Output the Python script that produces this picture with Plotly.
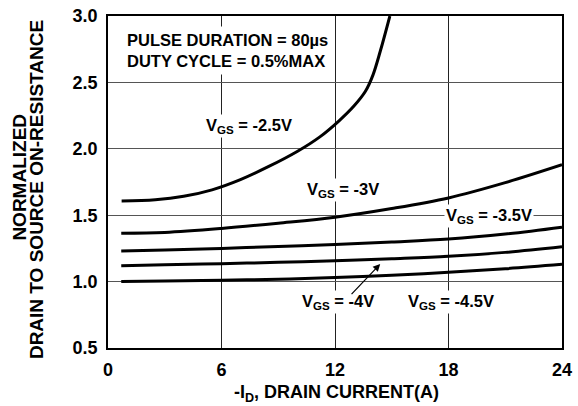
import plotly.graph_objects as go

# ---- data ----
id_vgs_25 = [0.72, 2.5, 4.0, 5.5, 7.0, 8.5, 10.0, 11.2, 12.2, 13.0, 13.6, 14.0, 14.4, 14.9]
r_vgs_25 = [1.607, 1.616, 1.642, 1.691, 1.768, 1.867, 1.98, 2.09, 2.209, 2.322, 2.431, 2.553, 2.738, 3.0]

id_common = [0.7, 3, 6, 9, 12, 15, 18, 21, 24]
r_vgs_30 = [1.365, 1.37, 1.40, 1.44, 1.485, 1.55, 1.63, 1.745, 1.88]
r_vgs_35 = [1.23, 1.238, 1.25, 1.264, 1.28, 1.298, 1.32, 1.358, 1.41]
r_vgs_40 = [1.12, 1.127, 1.135, 1.145, 1.157, 1.172, 1.19, 1.22, 1.262]
r_vgs_45 = [1.0, 1.004, 1.01, 1.018, 1.03, 1.047, 1.07, 1.097, 1.13]

x_ticks = [0, 6, 12, 18, 24]
y_ticks = [0.5, 1.0, 1.5, 2.0, 2.5, 3.0]

series = [
    (id_vgs_25, r_vgs_25),
    (id_common, r_vgs_30),
    (id_common, r_vgs_35),
    (id_common, r_vgs_40),
    (id_common, r_vgs_45),
]

FONT = "Arial, Liberation Sans, sans-serif"

fig = go.Figure()
for xs, ys in series:
    fig.add_trace(go.Scatter(x=xs, y=ys, mode="lines",
                             line=dict(color="black", width=3, shape="spline", smoothing=1.0),
                             showlegend=False, hoverinfo="skip"))

lbl_font = dict(family=FONT, size=16.5, color="black", weight="bold")
title_font = dict(family=FONT, size=19, color="black", weight="bold")

annotations = [
    dict(x=0.76, y=2.74, xref="x", yref="y", xanchor="left", yanchor="middle", align="left",
         text="PULSE DURATION = 80µs<br>DUTY CYCLE = 0.5%MAX", showarrow=False,
         bgcolor="white", borderpad=4, font=dict(family=FONT, size=16.5, color="black", weight="bold")),
    dict(x=7.46, y=2.17, text="V<sub>GS</sub> = -2.5V"),
    dict(x=12.43, y=1.69, text="V<sub>GS</sub> = -3V"),
    dict(x=20.16, y=1.495, text="V<sub>GS</sub> = -3.5V"),
    dict(x=12.17, y=0.85, text="V<sub>GS</sub> = -4V"),
    dict(x=18.15, y=0.85, text="V<sub>GS</sub> = -4.5V"),
]
for a in annotations[1:]:
    a.update(xref="x", yref="y", xanchor="center", yanchor="middle", showarrow=False,
             bgcolor="white", borderpad=1, font=lbl_font)

# arrow from -4V label to its curve
annotations.append(dict(x=14.39, y=1.133, xref="x", yref="y", ax=12.8, ay=0.895,
                        axref="x", ayref="y", text="", showarrow=True, arrowhead=2,
                        arrowsize=1.2, arrowwidth=1.2, arrowcolor="black"))

# axis titles
annotations.append(dict(x=-0.194, y=0.516, xref="paper", yref="paper", xanchor="center",
                        yanchor="middle", textangle=-90, showarrow=False,
                        text="NORMALIZED", font=title_font))
annotations.append(dict(x=-0.1587, y=0.4785, xref="paper", yref="paper", xanchor="center",
                        yanchor="middle", textangle=-90, showarrow=False,
                        text="DRAIN TO SOURCE ON-RESISTANCE", font=title_font))
annotations.append(dict(x=0.5025, y=-0.1384, xref="paper", yref="paper", xanchor="center",
                        yanchor="middle", showarrow=False,
                        text="-I<sub>D</sub>, DRAIN CURRENT(A)",
                        font=dict(family=FONT, size=18, color="black", weight="bold")))

fig.update_layout(
    width=578, height=406, autosize=False,
    margin=dict(l=108, r=16, t=16, b=58, pad=0, autoexpand=False),
    paper_bgcolor="white", plot_bgcolor="white",
    font=dict(family=FONT, size=16, color="black", weight="bold"),
    annotations=annotations,
)
tick_font = dict(family=FONT, size=18, color="black", weight="bold")
fig.update_xaxes(range=[0, 24], tickvals=x_ticks, ticktext=[str(v) for v in x_ticks],
                 showgrid=True, gridcolor="#222222", gridwidth=1,
                 showline=True, linecolor="black", linewidth=1.5, mirror=True,
                 ticks="", zeroline=False, ticklabelstandoff=5, tickfont=tick_font,
                 automargin=False)
fig.update_yaxes(range=[0.5, 3.0], tickvals=y_ticks, ticktext=[f"{v:.1f}" for v in y_ticks],
                 showgrid=True, gridcolor="#555555", gridwidth=1,
                 showline=True, linecolor="black", linewidth=1.5, mirror=True,
                 ticks="", zeroline=False, ticklabelstandoff=5, tickfont=tick_font,
                 automargin=False)

fig.write_html("out.html", config={"displayModeBar": False, "responsive": False},
               post_script="document.body.style.margin='0';document.body.style.overflow='hidden';")
